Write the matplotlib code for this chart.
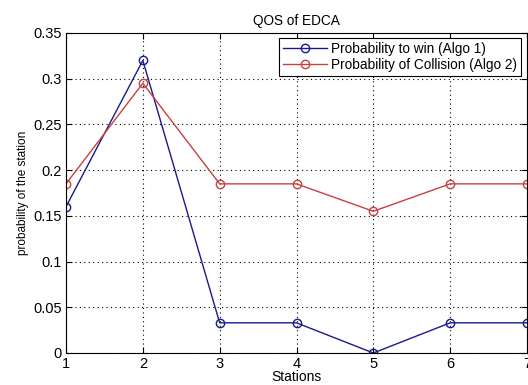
import matplotlib
matplotlib.use('Agg')
import matplotlib.pyplot as plt

plt.rcParams['font.family'] = ['Liberation Sans', 'DejaVu Sans']

stations = [1, 2, 3, 4, 5, 6, 7]
prob_win = [0.16, 0.32, 0.033, 0.033, 0.0, 0.033, 0.033]
prob_collision = [0.185, 0.295, 0.185, 0.185, 0.155, 0.185, 0.185]
yticks = [0, 0.05, 0.1, 0.15, 0.2, 0.25, 0.3, 0.35]
ytick_labels = ['0', '0.05', '0.1', '0.15', '0.2', '0.25', '0.3', '0.35']

fig = plt.figure(figsize=(5.28, 3.85), dpi=100)
# axes extends a little past the right edge like the cropped original
ax = fig.add_axes([66 / 528, 1 - 353 / 385, 461 / 528, 320 / 385])

ax.plot(stations, prob_win, color='#1a1a8c', lw=1.0, marker='o', ms=6,
        mfc='none', mec='#1a1a8c', mew=1.0, label='Probability to win (Algo 1)')
ax.plot(stations, prob_collision, color='#c84040', lw=1.0, marker='o', ms=6,
        mfc='none', mec='#c84040', mew=1.0, label='Probability of Collision (Algo 2)')

ax.set_xlim(1, 7)
ax.set_ylim(0, 0.35)
ax.set_xticks(stations)
ax.set_yticks(yticks)
ax.set_yticklabels(ytick_labels)
ax.tick_params(direction='in', top=True, right=True, labelsize=10.5, length=4, pad=3)
ax.grid(True, linestyle=(0, (1, 3)), color='black', lw=0.8)
for s in ax.spines.values():
    s.set_linewidth(0.8)

ax.set_title('QOS of EDCA', fontsize=9.8, pad=6)
ax.set_xlabel('Stations', fontsize=10, labelpad=-1)
ax.set_ylabel('probability of the station', fontsize=8.5, labelpad=3)

leg = ax.legend(loc='upper right', bbox_to_anchor=(0.987, 0.985), fontsize=9.8,
                frameon=True, fancybox=False, edgecolor='black', framealpha=1,
                borderaxespad=0, handlelength=3.2, borderpad=0.3, labelspacing=0.15,
                handletextpad=0.3)
leg.get_frame().set_linewidth(0.8)

fig.savefig('out.png', dpi=100)
